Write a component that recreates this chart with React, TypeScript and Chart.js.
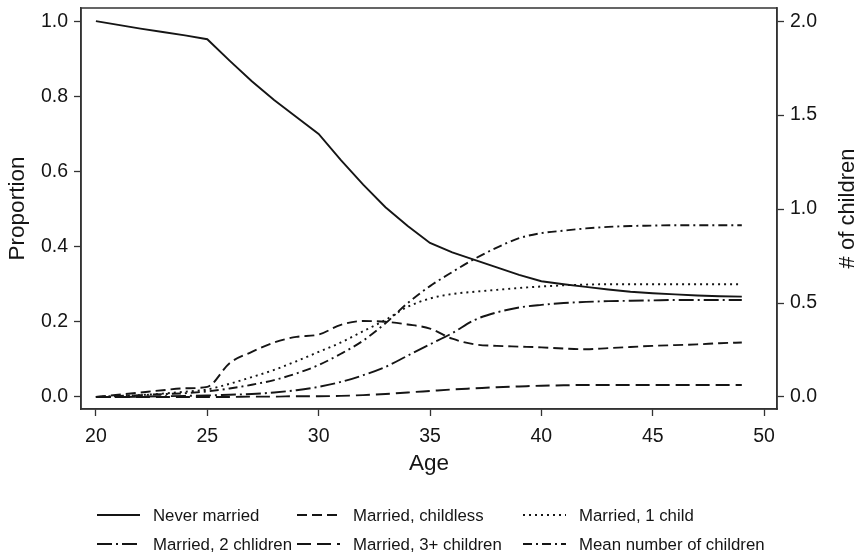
import React, { useEffect, useRef } from "react";
import { Chart, registerables } from "chart.js";

Chart.register(...registerables);

const ages = [20, 21, 22, 23, 24, 25, 26, 27, 28, 29, 30, 31, 32, 33, 34, 35, 36, 37, 38, 39, 40, 41, 42, 43, 44, 45, 46, 47, 48, 49];

const neverMarried = [1.0, 0.99, 0.98, 0.971, 0.962, 0.952, 0.895, 0.84, 0.79, 0.745, 0.70, 0.63, 0.565, 0.505, 0.455, 0.41, 0.385, 0.365, 0.345, 0.325, 0.308, 0.30, 0.293, 0.286, 0.28, 0.276, 0.273, 0.27, 0.268, 0.267];
const marriedChildless = [0, 0.006, 0.012, 0.018, 0.023, 0.027, 0.09, 0.12, 0.145, 0.16, 0.166, 0.192, 0.202, 0.2, 0.193, 0.182, 0.155, 0.14, 0.136, 0.134, 0.132, 0.129, 0.127, 0.13, 0.133, 0.136, 0.138, 0.14, 0.143, 0.145];
const married1Child = [0, 0.002, 0.005, 0.009, 0.014, 0.02, 0.035, 0.053, 0.072, 0.095, 0.12, 0.145, 0.175, 0.205, 0.24, 0.262, 0.274, 0.28, 0.285, 0.29, 0.294, 0.297, 0.299, 0.3, 0.3, 0.3, 0.3, 0.3, 0.3, 0.3];
const married2Children = [0, 0, 0.001, 0.002, 0.003, 0.004, 0.006, 0.008, 0.012, 0.018, 0.027, 0.04, 0.058, 0.08, 0.11, 0.14, 0.17, 0.205, 0.225, 0.238, 0.245, 0.25, 0.253, 0.255, 0.256, 0.257, 0.258, 0.258, 0.258, 0.258];
const married3Plus = [0, 0, 0, 0, 0, 0, 0, 0.001, 0.001, 0.002, 0.002, 0.003, 0.005, 0.008, 0.012, 0.016, 0.02, 0.023, 0.026, 0.028, 0.03, 0.031, 0.032, 0.032, 0.032, 0.032, 0.032, 0.032, 0.032, 0.032];
const meanChildren = [0, 0.005, 0.01, 0.015, 0.02, 0.03, 0.045, 0.065, 0.09, 0.125, 0.17, 0.23, 0.3, 0.392, 0.5, 0.59, 0.665, 0.735, 0.795, 0.845, 0.872, 0.885, 0.897, 0.905, 0.91, 0.912, 0.914, 0.914, 0.914, 0.914];

const seriesLabels = ["Never married", "Married, childless", "Married, 1 child", "Married, 2 chlidren", "Married, 3+ children", "Mean number of children"];
const xTicks = [20, 25, 30, 35, 40, 45, 50];
const leftTicks = [0, 0.2, 0.4, 0.6, 0.8, 1.0];
const rightTicks = [0, 0.5, 1.0, 1.5, 2.0];

const FONT = '"Liberation Sans", Arial, sans-serif';
const INK = "#151515";
const AXIS = "#333333";

const legendPlugin = {
  id: "customLegend",
  afterDraw(chart: any) {
    const ctx = chart.ctx;
    const cols = [97, 297, 523];
    const rows = [515, 544];
    chart.data.datasets.forEach((ds: any, i: number) => {
      const r = Math.floor(i / 3);
      const c = i % 3;
      const x = cols[c];
      const y = rows[r];
      ctx.save();
      ctx.strokeStyle = ds.borderColor;
      ctx.lineWidth = ds.borderWidth;
      ctx.setLineDash(ds.borderDash || []);
      ctx.beginPath();
      ctx.moveTo(x, y);
      ctx.lineTo(x + 43, y);
      ctx.stroke();
      ctx.setLineDash([]);
      ctx.fillStyle = INK;
      ctx.font = `16.8px ${FONT}`;
      ctx.textBaseline = "middle";
      ctx.textAlign = "left";
      ctx.fillText(ds.label, x + 56, y + 1);
      ctx.restore();
    });
  },
};

const framePlugin = {
  id: "frame",
  afterDatasetsDraw(chart: any) {
    const { ctx, chartArea } = chart;
    ctx.save();
    ctx.strokeStyle = AXIS;
    ctx.lineWidth = 1.5;
    ctx.strokeRect(chartArea.left, chartArea.top, chartArea.right - chartArea.left, chartArea.bottom - chartArea.top);
    // right axis title, reading bottom-to-top
    ctx.translate(848, (chartArea.top + chartArea.bottom) / 2);
    ctx.rotate(-Math.PI / 2);
    ctx.fillStyle = INK;
    ctx.font = `22px ${FONT}`;
    ctx.textAlign = "center";
    ctx.textBaseline = "middle";
    ctx.fillText("# of children", 0, 0);
    ctx.restore();
  },
};

function pts(vals: number[]) {
  return ages.map((a, i) => ({ x: a, y: vals[i] }));
}

export default function App() {
  const ref = useRef<HTMLCanvasElement | null>(null);

  useEffect(() => {
    if (!ref.current) return;
    const mk = (label: string, vals: number[], dash: number[], axis: string, smooth: boolean) => ({
      label,
      data: pts(vals),
      borderColor: INK,
      borderWidth: 1.9,
      borderDash: dash,
      pointRadius: 0,
      fill: false,
      yAxisID: axis,
      tension: 0,
      cubicInterpolationMode: smooth ? "monotone" : "default",
    });

    const tickGrid = {
      display: true,
      drawOnChartArea: false,
      drawTicks: true,
      tickLength: 7,
      tickColor: AXIS,
      tickWidth: 1.3,
    };

    const chart = new Chart(ref.current, {
      type: "line",
      data: {
        datasets: [
          mk(seriesLabels[0], neverMarried, [], "y", false),
          mk(seriesLabels[1], marriedChildless, [10, 5], "y", true),
          mk(seriesLabels[2], married1Child, [2, 4], "y", true),
          mk(seriesLabels[3], married2Children, [15, 4, 2, 4], "y", true),
          mk(seriesLabels[4], married3Plus, [14, 6], "y", true),
          mk(seriesLabels[5], meanChildren, [9, 4, 2, 4], "y1", true),
        ] as any,
      },
      options: {
        animation: false,
        responsive: false,
        maintainAspectRatio: false,
        layout: { padding: { top: 8, bottom: 75, left: 0, right: 0 } },
        plugins: { legend: { display: false }, tooltip: { enabled: false } },
        scales: {
          x: {
            type: "linear",
            min: 19.33,
            max: 50.58,
            afterBuildTicks: (s: any) => {
              s.ticks = xTicks.map((v) => ({ value: v }));
            },
            afterFit: (s: any) => {
              s.height = 70;
              s.paddingLeft = 0;
              s.paddingRight = 0;
            },
            ticks: {
              color: INK,
              font: { family: FONT, size: 19.5 },
              padding: 9,
              maxRotation: 0,
              callback: (v: any) => String(v),
            },
            grid: tickGrid,
            border: { display: true, color: AXIS, width: 1.5 },
            title: {
              display: true,
              text: "Age",
              color: INK,
              font: { family: FONT, size: 22.5, lineHeight: 1.2 },
              padding: { top: 0, bottom: 2 },
            },
          },
          y: {
            type: "linear",
            position: "left",
            min: -0.032,
            max: 1.035,
            afterBuildTicks: (s: any) => {
              s.ticks = leftTicks.map((v) => ({ value: v }));
            },
            afterFit: (s: any) => {
              s.width = 81;
              s.paddingTop = 0;
              s.paddingBottom = 0;
            },
            ticks: {
              color: INK,
              font: { family: FONT, size: 19.5 },
              padding: 6,
              callback: (v: any) => Number(v).toFixed(1),
            },
            grid: tickGrid,
            border: { display: true, color: AXIS, width: 1.5 },
            title: {
              display: true,
              text: "Proportion",
              color: INK,
              font: { family: FONT, size: 22.5, lineHeight: 1.0 },
              padding: { top: 7, bottom: 0 },
            },
          },
          y1: {
            type: "linear",
            position: "right",
            min: -0.064,
            max: 2.07,
            afterBuildTicks: (s: any) => {
              s.ticks = rightTicks.map((v) => ({ value: v }));
            },
            afterFit: (s: any) => {
              s.width = 81;
              s.paddingTop = 0;
              s.paddingBottom = 0;
            },
            ticks: {
              color: INK,
              font: { family: FONT, size: 19.5 },
              padding: 6,
              callback: (v: any) => Number(v).toFixed(1),
            },
            grid: tickGrid,
            border: { display: true, color: AXIS, width: 1.5 },
          },
        },
      } as any,
      plugins: [legendPlugin, framePlugin],
    });
    return () => chart.destroy();
  }, []);

  return (
    <div style={{ position: "fixed", left: 0, top: 0, width: 858, height: 554, background: "#ffffff" }}>
      <canvas ref={ref} width={858} height={554} style={{ display: "block", width: 858, height: 554 }} />
    </div>
  );
}
